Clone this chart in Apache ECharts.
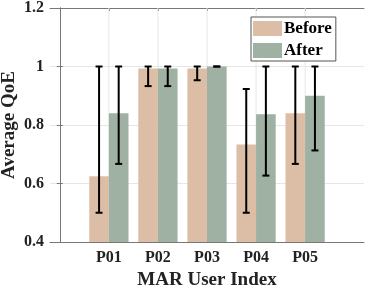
<!DOCTYPE html>
<html><head><meta charset="utf-8">
<script src="https://cdn.jsdelivr.net/npm/echarts@6/dist/echarts.min.js"></script>
<style>html,body{margin:0;padding:0;background:#fff}#c{width:369px;height:291px}</style>
</head><body><div id="c"></div>
<script>
const categories = ['P01','P02','P03','P04','P05'];
const beforeVals = [0.625, 0.993, 0.993, 0.733, 0.84];
const beforeLow  = [0.5, 0.933, 0.953, 0.5, 0.667];
const beforeHigh = [1.0, 1.0, 1.0, 0.923, 1.0];
const afterVals  = [0.84, 0.993, 1.0, 0.837, 0.9];
const afterLow   = [0.667, 0.933, 1.0, 0.627, 0.713];
const afterHigh  = [1.0, 1.0, 1.0, 1.0, 1.0];
const yTicks = [0.4, 0.6, 0.8, 1.0, 1.2];

const FONT = 'Liberation Serif';
const AX = '#777';
const positions = categories.map((c,i)=>i+1);

function barData(vals){ return vals.map((v,i)=>[positions[i], v]); }
function errData(lo,hi,off){ return lo.map((l,i)=>[positions[i]+off, l, hi[i]]); }

function barRender(offset){
  return function(params, api){
    const x = api.value(0), y = api.value(1);
    const p0 = api.coord([x+offset, 0.4]);
    const p1 = api.coord([x+offset+0.4, y]);
    return {type:'rect', shape:{x:p0[0], y:p1[1], width:p1[0]-p0[0], height:p0[1]-p1[1]}, style:{fill:api.visual('color')}};
  };
}
function errRender(params, api){
  const x = api.value(0), lo = api.value(1), hi = api.value(2);
  const a = api.coord([x, lo]), b = api.coord([x, hi]);
  const cw = 3.5;
  const st = {stroke:'#000', lineWidth:2};
  return {type:'group', children:[
    {type:'line', shape:{x1:a[0], y1:a[1], x2:b[0], y2:b[1]}, style:st},
    {type:'line', shape:{x1:a[0]-cw, y1:a[1], x2:a[0]+cw, y2:a[1]}, style:st},
    {type:'line', shape:{x1:b[0]-cw, y1:b[1], x2:b[0]+cw, y2:b[1]}, style:st}
  ]};
}

const chart = echarts.init(document.getElementById('c'), null, {renderer:'canvas'});
const xBase = {
  type:'value', min:-0.2, max:6.2,
  axisLine:{show:true, onZero:false, lineStyle:{color:AX, width:1}},
  axisTick:{show:true, inside:true, length:3, customValues:positions, lineStyle:{color:AX}},
  splitLine:{show:false}
};
chart.setOption({
  animation:false,
  textStyle:{fontFamily:FONT},
  grid:{left:50, right:5, top:8, bottom:49, containLabel:false, outerBoundsMode:'none'},
  legend:{
    orient:'vertical', left:251, top:17,
    data:[{name:'Before', icon:'rect'},{name:'After', icon:'rect'}],
    itemWidth:29, itemHeight:15, itemGap:5,
    padding:[3,4,2,2],
    borderColor:'#555', borderWidth:1, backgroundColor:'#fff',
    textStyle:{fontFamily:FONT, fontWeight:'bold', fontSize:17, color:'#000', padding:[0,0,0,-3]}
  },
  xAxis:[
    Object.assign({}, xBase, {
      position:'bottom',
      name:'MAR User Index', nameLocation:'middle', nameGap:29, nameMoveOverlap:false,
      nameTextStyle:{fontFamily:FONT, fontWeight:'bold', fontSize:19, color:'#222'},
      axisLabel:{show:true, customValues:positions, margin:8,
        formatter:v=>categories[Math.round(v)-1]||'',
        fontFamily:FONT, fontWeight:'bold', fontSize:16, color:'#222'}
    }),
    Object.assign({}, xBase, {position:'top', axisLabel:{show:false}})
  ],
  yAxis:[
    {type:'value', min:0.4, max:1.2, interval:0.2, position:'left',
     name:'Average QoE', nameLocation:'middle', nameGap:31, nameMoveOverlap:false,
     nameTextStyle:{fontFamily:FONT, fontWeight:'bold', fontSize:19, color:'#222'},
     axisLine:{show:true, lineStyle:{color:AX}},
     axisTick:{show:true, inside:true, length:3, lineStyle:{color:AX}},
     axisLabel:{formatter:v=>String(+v.toFixed(1)), fontFamily:FONT, fontWeight:'bold', fontSize:16, color:'#222', margin:6},
     splitLine:{show:true, lineStyle:{color:'#e6e6e6', width:1}}},
    {type:'value', min:0.4, max:1.2, interval:0.2, position:'right',
     axisLine:{show:true, lineStyle:{color:AX}},
     axisTick:{show:true, inside:true, length:3, lineStyle:{color:AX}},
     axisLabel:{show:false}, splitLine:{show:false}}
  ],
  series:[
    {type:'custom', name:'grid', silent:true, xAxisIndex:0, yAxisIndex:0, z:1,
     data:positions.map(p=>[p]),
     renderItem:(params, api)=>{
       const a = api.coord([api.value(0), 0.4]), b = api.coord([api.value(0), 1.2]);
       return {type:'line', shape:{x1:a[0], y1:a[1], x2:b[0], y2:b[1]}, style:{stroke:'#e6e6e6', lineWidth:1}};
     }},
    {type:'custom', name:'Before', xAxisIndex:0, yAxisIndex:0, z:2,
     itemStyle:{color:'#DCBEA6'}, data:barData(beforeVals), renderItem:barRender(-0.4)},
    {type:'custom', name:'After', xAxisIndex:0, yAxisIndex:0, z:2,
     itemStyle:{color:'#9FB1A3'}, data:barData(afterVals), renderItem:barRender(0)},
    {type:'custom', name:'errB', xAxisIndex:0, yAxisIndex:0, z:3,
     data:errData(beforeLow, beforeHigh, -0.2), renderItem:errRender},
    {type:'custom', name:'errA', xAxisIndex:0, yAxisIndex:0, z:3,
     data:errData(afterLow, afterHigh, 0.2), renderItem:errRender}
  ]
});
</script></body></html>
